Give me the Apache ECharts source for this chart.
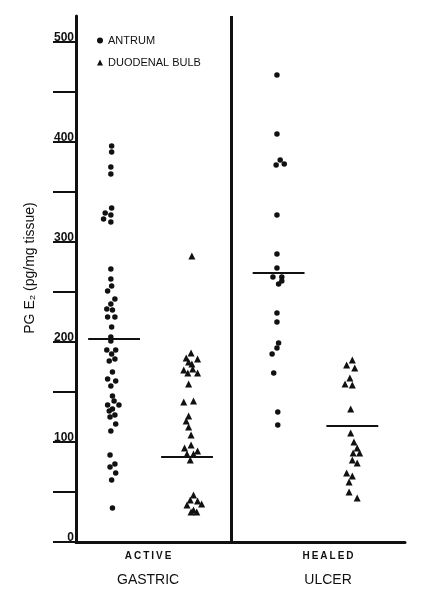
<!DOCTYPE html>
<html><head><meta charset="utf-8">
<script src="https://cdn.jsdelivr.net/npm/echarts@6/dist/echarts.min.js"></script>
<style>html,body{margin:0;padding:0;background:#fff}#c{width:421px;height:594px}</style>
</head><body><div id="c"></div>
<script>
// ---- data ----
const stateLabels = ['ACTIVE', 'HEALED'];
const conditionLabels = ['GASTRIC', 'ULCER'];
const seriesNames = ['ANTRUM', 'DUODENAL BULB'];
const yLabelValues = [0, 100, 200, 300, 400, 500];
const yTickValues = [0, 50, 100, 150, 200, 250, 300, 350, 400, 450, 500];

// [group position (0..3 with small jitter), PG E2 pg/mg tissue]
const activeAntrum = [
  [0.01,396],[0.01,390],[0,375],[0,368],[0.01,334],[-0.07,329],[0,327],[-0.09,323],[0,320],
  [0,273],[0,263],[0.01,256],[-0.04,251],[0.05,243],[0,238],[-0.05,233],[0.02,232],[-0.04,225],
  [0.05,225],[0.01,215],[0,205],[0,201],[-0.05,192],[0.06,192],[0.01,188],[0.05,183],[-0.02,181],
  [0.02,170],[-0.04,163],[0.06,161],[0,156],[0.02,146],[0.04,141],[-0.04,137],[0.10,137],
  [0.02,133],[-0.02,131],[0.05,127],[-0.01,125],[0.06,118],[0,111],[-0.01,87],[0.05,78],
  [-0.01,75],[0.06,69],[0.01,62],[0.02,34]
];
const activeDuodenal = [
  [1.00,286],[0.99,189],[0.93,184],[1.07,183],[0.96,180],[1.00,178],[0.90,172],[1.01,173],
  [0.95,169],[1.07,169],[0.96,158],[0.90,140],[1.02,141],[0.96,126],[0.93,121],[0.96,115],
  [0.99,107],[0.91,94],[0.99,97],[1.07,91],[0.94,88],[1.02,88],[0.98,82],[1.02,47],[0.98,42],
  [1.07,41],[0.94,37],[1.12,38],[1.02,32],[0.99,30],[1.06,30]
];
const healedAntrum = [
  [2.05,467],[2.05,408],[2.09,382],[2.04,377],[2.14,378],[2.05,327],[2.05,288],[2.05,274],
  [2.00,265],[2.11,265],[2.11,261],[2.07,258],[2.05,229],[2.05,220],[2.07,199],[2.05,194],
  [1.99,188],[2.01,169],[2.06,130],[2.06,117]
];
const healedDuodenal = [
  [2.98,182],[2.91,177],[3.01,174],[2.95,164],[2.89,158],[2.98,157],[2.96,133],[2.96,109],
  [3.00,100],[3.04,94],[2.99,89],[3.07,89],[2.98,82],[3.04,79],[2.91,69],[2.98,66],[2.94,60],
  [2.94,50],[3.04,44]
];
const groupMeans = [203, 85, 269, 116];

// ---- layout ----
const meanLineCenters = [0.04, 0.94, 2.07, 2.98];
const meanHalfWidth = 0.32;
const dividerX = 1.494;
const labelCenters = [0.46, 2.68];

const black = '#111';
const font = 'Liberation Sans, Arial, Helvetica, sans-serif';

const chart = echarts.init(document.getElementById('c'), null, {renderer: 'canvas'});

const scatterBase = (name, data, symbol, size) => ({
  type: 'scatter', name, data, symbol, symbolSize: size,
  itemStyle: {color: black, opacity: 1}, z: 3, silent: true
});

const meanSeries = groupMeans.map((m, i) => ({
  type: 'line', name: 'mean' + i,
  data: [[meanLineCenters[i] - meanHalfWidth, m], [meanLineCenters[i] + meanHalfWidth, m]],
  symbol: 'none', lineStyle: {color: black, width: 1.8}, z: 4, silent: true
}));

const s0 = scatterBase(seriesNames[0], activeAntrum, 'circle', 5.5);
s0.markLine = {
  silent: true, symbol: 'none', label: {show: false},
  lineStyle: {color: black, width: 3, type: 'solid'},
  data: [{xAxis: dividerX}]
};

chart.setOption({
  animation: false,
  backgroundColor: '#fff',
  textStyle: {fontFamily: font, color: black},
  grid: {left: 76, right: 16, top: 16, bottom: 52},
  legend: {
    data: seriesNames, orient: 'vertical', left: 92, top: 30,
    itemWidth: 6, itemHeight: 6, itemGap: 11,
    textStyle: {fontSize: 11, color: black, fontFamily: font},
    selectedMode: false
  },
  xAxis: {
    type: 'value', min: -0.43, max: 3.63,
    splitLine: {show: false},
    axisLine: {lineStyle: {color: black, width: 3}},
    axisTick: {show: false},
    axisLabel: {
      customValues: labelCenters, margin: 7, interval: 0,
      formatter: v => {
        const i = Math.abs(v - labelCenters[0]) < 0.01 ? 0 : 1;
        return '{a|' + stateLabels[i].split('').join('\u2009') + '}\n{b|' + conditionLabels[i] + '}';
      },
      rich: {
        a: {fontSize: 10, fontWeight: 'bold', lineHeight: 14, color: black, fontFamily: font},
        b: {fontSize: 14, lineHeight: 34, color: black, fontFamily: font}
      }
    }
  },
  yAxis: {
    type: 'value', min: 0, max: 526,
    name: 'PG E\u2082 (pg/mg tissue)', nameLocation: 'middle', nameGap: 39,
    nameTextStyle: {fontSize: 14, color: black, padding: [0, 0, 0, 22], fontFamily: font},
    splitLine: {show: false},
    axisLine: {onZero: false, lineStyle: {color: black, width: 3}},
    axisTick: {customValues: yTickValues, length: 23, lineStyle: {color: black, width: 2}},
    axisLabel: {
      customValues: yLabelValues, margin: 2, align: 'right', verticalAlign: 'bottom',
      fontSize: 12, fontWeight: 'bold', color: black, lineHeight: 8, fontFamily: font
    }
  },
  series: [
    s0,
    scatterBase(seriesNames[1], activeDuodenal, 'triangle', 7),
    scatterBase(seriesNames[0], healedAntrum, 'circle', 5.5),
    scatterBase(seriesNames[1], healedDuodenal, 'triangle', 7),
    ...meanSeries
  ]
});
</script></body></html>
